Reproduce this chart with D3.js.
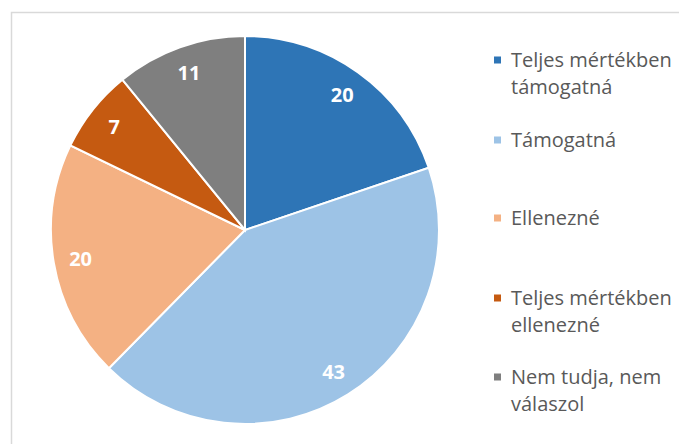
<!DOCTYPE html>
<html>
<head>
<meta charset="utf-8">
<script src="https://cdn.jsdelivr.net/npm/d3@7"></script>
<style>
  body { margin: 0; background: #fff; }
  svg { display: block; font-family: "Open Sans", sans-serif; }
</style>
</head>
<body>
<svg id="chart" width="679" height="444"></svg>
<script>
var categories = ['Teljes mértékben támogatná', 'Támogatná', 'Ellenezné', 'Teljes mértékben ellenezné', 'Nem tudja, nem válaszol']
var values = [20, 43, 20, 7, 11]
var legendLines = [['Teljes mértékben', 'támogatná'], ['Támogatná'], ['Ellenezné'], ['Teljes mértékben', 'ellenezné'], ['Nem tudja, nem', 'válaszol']]
var colors = ['#2e75b6', '#9dc3e6', '#f4b183', '#c55a11', '#7f7f7f']

var width = 679, height = 444
var cx = 245, cy = 230, radius = 194

var svg = d3.select('#chart')

// chart frame
svg.append('path')
  .attr('d', 'M11.5,' + height + 'V12.5H' + width)
  .attr('fill', 'none')
  .attr('stroke', '#d9d9d9')
  .attr('stroke-width', 1.5)

var pie = d3.pie().sort(null).value(d => d)
var arcs = pie(values)
var arc = d3.arc().innerRadius(0).outerRadius(radius)
var labelArc = d3.arc().innerRadius(radius * 0.86).outerRadius(radius * 0.86)

var g = svg.append('g').attr('transform', 'translate(' + cx + ',' + cy + ')')

g.selectAll('path')
  .data(arcs)
  .enter()
  .append('path')
  .attr('d', arc)
  .attr('fill', (d, i) => colors[i])
  .attr('stroke', '#fff')
  .attr('stroke-width', 2)

g.selectAll('text')
  .data(arcs)
  .enter()
  .append('text')
  .attr('transform', d => 'translate(' + labelArc.centroid(d) + ')')
  .attr('text-anchor', 'middle')
  .attr('dy', '0.36em')
  .attr('fill', '#fff')
  .attr('font-size', 20)
  .attr('font-weight', 'bold')
  .text(d => d.data)

// legend
var legendY = [60, 140, 218, 298, 377]
var legend = svg.append('g')
legendLines.forEach(function (lines, i) {
  var row = legend.append('g').attr('transform', 'translate(494,' + legendY[i] + ')')
  row.append('rect')
    .attr('x', 0).attr('y', -3.5)
    .attr('width', 7).attr('height', 7)
    .attr('fill', colors[i])
  var t = row.append('text')
    .attr('fill', '#595959')
    .attr('font-size', 20)
  lines.forEach(function (line, j) {
    t.append('tspan')
      .attr('x', 17)
      .attr('y', j * 27)
      .attr('dy', '0.35em')
      .text(line)
  })
})
</script>
</body>
</html>
